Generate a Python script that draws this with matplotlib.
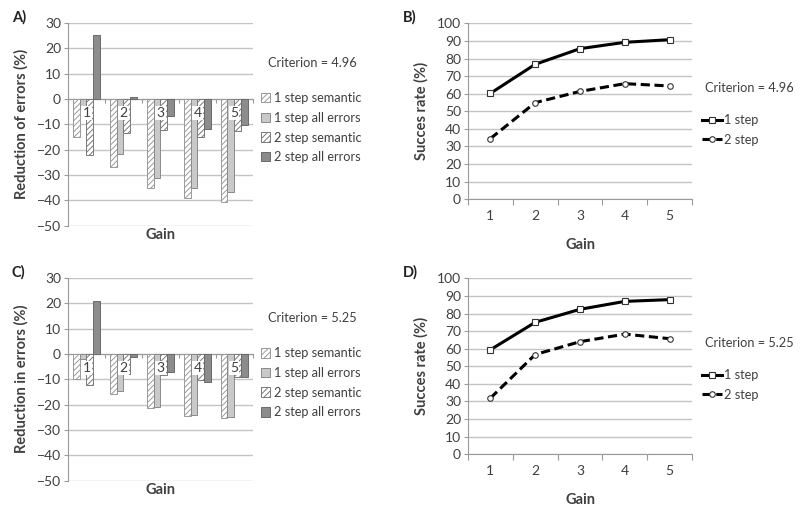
import matplotlib
matplotlib.use("Agg")
import matplotlib.pyplot as plt
import numpy as np

plt.rcParams["font.family"] = ["Lato", "DejaVu Sans"]
plt.rcParams["hatch.linewidth"] = 0.7

gain = [1, 2, 3, 4, 5]
bar_series = ["1 step semantic", "1 step all errors", "2 step semantic", "2 step all errors"]

# Panel A (criterion 4.96): reduction of errors (%)
a_1sem = [-15.0, -26.8, -35.3, -39.1, -40.7]
a_1all = [-4.0, -21.6, -31.1, -35.0, -36.7]
a_2sem = [-22.2, -13.4, -12.2, -15.0, -12.6]
a_2all = [25.0, 0.9, -6.6, -11.8, -10.4]

# Panel C (criterion 5.25): reduction in errors (%)
c_1sem = [-9.9, -15.7, -21.2, -24.5, -25.3]
c_1all = [-2.2, -14.5, -20.8, -24.1, -24.9]
c_2sem = [-12.4, -8.1, -8.2, -10.4, -9.0]
c_2all = [20.7, -1.2, -7.2, -10.9, -9.1]

# Panels B and D: success rate (%)
b_1step = [60.2, 76.7, 85.6, 89.2, 90.7]
b_2step = [34.5, 54.9, 61.3, 65.7, 64.4]
d_1step = [59.4, 75.0, 82.4, 86.9, 87.9]
d_2step = [31.9, 56.7, 64.0, 68.3, 65.7]

TXT = "#404040"
GRID = "#c4c4c4"
AX = "#9a9a9a"
TICK_FS = 10
LAB_FS = 10.5
LEG_FS = 9.2
CRIT_FS = 9.2

bar_styles = [
    dict(facecolor="white", edgecolor="#9a9a9a", hatch="//////"),
    dict(facecolor="#c9c9c9", edgecolor="#8a8a8a"),
    dict(facecolor="white", edgecolor="#7a7a7a", hatch="//////"),
    dict(facecolor="#8c8c8c", edgecolor="#6a6a6a"),
]


def bar_panel(fig, rect, series, ylabel, crit, crit_y, leg_y):
    ax = fig.add_axes(rect)
    x = np.array(gain)
    w = 0.185
    handles = []
    for i, (vals, st) in enumerate(zip(series, bar_styles)):
        h = ax.bar(x + (i - 1.5) * w, vals, width=w, linewidth=0.7, zorder=2, **st)
        handles.append(h)
    ax.set_xlim(0.5, 5.5)
    ax.set_ylim(-50, 30)
    ax.set_yticks(np.arange(-50, 31, 10))
    ax.yaxis.grid(True, color=GRID, linewidth=1.0, zorder=0)
    ax.set_axisbelow(True)
    ax.xaxis.set_zorder(3)  # category labels sit on top of the bars
    for s in ["top", "right"]:
        ax.spines[s].set_visible(False)
    ax.spines["left"].set_color(AX)
    ax.spines["bottom"].set_position(("data", 0))
    ax.spines["bottom"].set_color(AX)
    ax.spines["bottom"].set_zorder(1)
    ax.set_xticks(np.arange(0.5, 5.6, 1.0))
    ax.set_xticklabels([])
    ax.set_xticks(gain, minor=True)
    ax.set_xticklabels([str(g) for g in gain], minor=True)
    ax.tick_params(axis="x", which="major", length=3, color=AX)
    ax.tick_params(axis="x", which="minor", length=0, pad=6, labelsize=TICK_FS, labelcolor=TXT)
    for lab in ax.get_xticklabels(minor=True):
        lab.set_bbox(dict(facecolor="white", edgecolor="none", pad=0.8))
    ax.tick_params(axis="y", length=3, color=AX, labelsize=TICK_FS, labelcolor=TXT, pad=2)
    ax.set_ylabel(ylabel, fontsize=LAB_FS, fontweight="bold", color=TXT)
    ax.yaxis.set_label_coords(-0.215, 0.5)
    ax.text(0.5, -0.045, "Gain", transform=ax.transAxes, ha="center", va="center",
            fontsize=LAB_FS, fontweight="bold", color=TXT)
    fig.text(0.335, crit_y, crit, fontsize=CRIT_FS, color=TXT, va="center")
    leg = ax.legend(handles, bar_series, loc="upper left", bbox_to_anchor=(0.326, leg_y),
                    bbox_transform=fig.transFigure, frameon=False, fontsize=LEG_FS,
                    handlelength=0.75, handleheight=0.75, handletextpad=0.3,
                    labelspacing=0.6, borderaxespad=0, borderpad=0)
    for t in leg.get_texts():
        t.set_color(TXT)
    return ax


def line_panel(fig, rect, one, two, crit, crit_y, leg_y):
    ax = fig.add_axes(rect)
    l1, = ax.plot(gain, one, color="black", linewidth=2.2, marker="s", markersize=4,
                  markerfacecolor="white", markeredgecolor="#333333", markeredgewidth=0.8,
                  label="1 step", zorder=3)
    l2, = ax.plot(gain, two, color="black", linewidth=2.2, linestyle=(0, (3, 1.5)),
                  marker="o", markersize=4, markerfacecolor="white",
                  markeredgecolor="#333333", markeredgewidth=0.8, label="2 step", zorder=3)
    ax.set_xlim(0.5, 5.5)
    ax.set_ylim(0, 100)
    ax.set_yticks(np.arange(0, 101, 10))
    ax.yaxis.grid(True, color=GRID, linewidth=1.0, zorder=0)
    ax.set_axisbelow(True)
    for s in ["top", "right"]:
        ax.spines[s].set_visible(False)
    ax.spines["left"].set_color(AX)
    ax.spines["bottom"].set_color(AX)
    ax.set_xticks(np.arange(0.5, 5.6, 1.0))
    ax.set_xticklabels([])
    ax.set_xticks(gain, minor=True)
    ax.set_xticklabels([str(g) for g in gain], minor=True)
    ax.tick_params(axis="x", which="major", length=4, color=AX)
    ax.tick_params(axis="x", which="minor", length=0, pad=8, labelsize=TICK_FS, labelcolor=TXT)
    ax.tick_params(axis="y", length=3, color=AX, labelsize=TICK_FS, labelcolor=TXT, pad=2)
    ax.set_ylabel("Succes rate (%)", fontsize=LAB_FS, fontweight="bold", color=TXT)
    ax.yaxis.set_label_coords(-0.178, 0.5)
    ax.set_xlabel("Gain", fontsize=LAB_FS, fontweight="bold", color=TXT)
    ax.xaxis.set_label_coords(0.5, -0.22)
    fig.text(0.881, crit_y, crit, fontsize=CRIT_FS, color=TXT, va="center")
    leg = ax.legend([l1, l2], ["1 step", "2 step"], loc="upper left",
                    bbox_to_anchor=(0.877, leg_y), bbox_transform=fig.transFigure,
                    frameon=False, fontsize=LEG_FS, handlelength=1.6,
                    handletextpad=0.15, labelspacing=0.6, borderaxespad=0, borderpad=0)
    for t in leg.get_texts():
        t.set_color(TXT)
    return ax


def main():
    fig = plt.figure(figsize=(8.0, 5.07), dpi=100)

    bar_panel(fig, [0.085, 0.555, 0.231, 0.400], [a_1sem, a_1all, a_2sem, a_2all],
              "Reduction of errors (%)", "Criterion = 4.96", 0.876, 0.818)
    bar_panel(fig, [0.085, 0.052, 0.231, 0.400], [c_1sem, c_1all, c_2sem, c_2all],
              "Reduction in errors (%)", "Criterion = 5.25", 0.373, 0.315)
    line_panel(fig, [0.585, 0.607, 0.280, 0.347], b_1step, b_2step,
               "Criterion = 4.96", 0.826, 0.775)
    line_panel(fig, [0.585, 0.104, 0.280, 0.347], d_1step, d_2step,
               "Criterion = 5.25", 0.323, 0.272)

    for lab, x, y in [("A)", 0.015, 0.966), ("B)", 0.504, 0.966),
                      ("C)", 0.015, 0.463), ("D)", 0.504, 0.463)]:
        fig.text(x, y, lab, fontsize=LAB_FS, fontweight="bold", color="#222222",
                 va="center")

    fig.savefig("out.png", dpi=100)


if __name__ == "__main__":
    main()
